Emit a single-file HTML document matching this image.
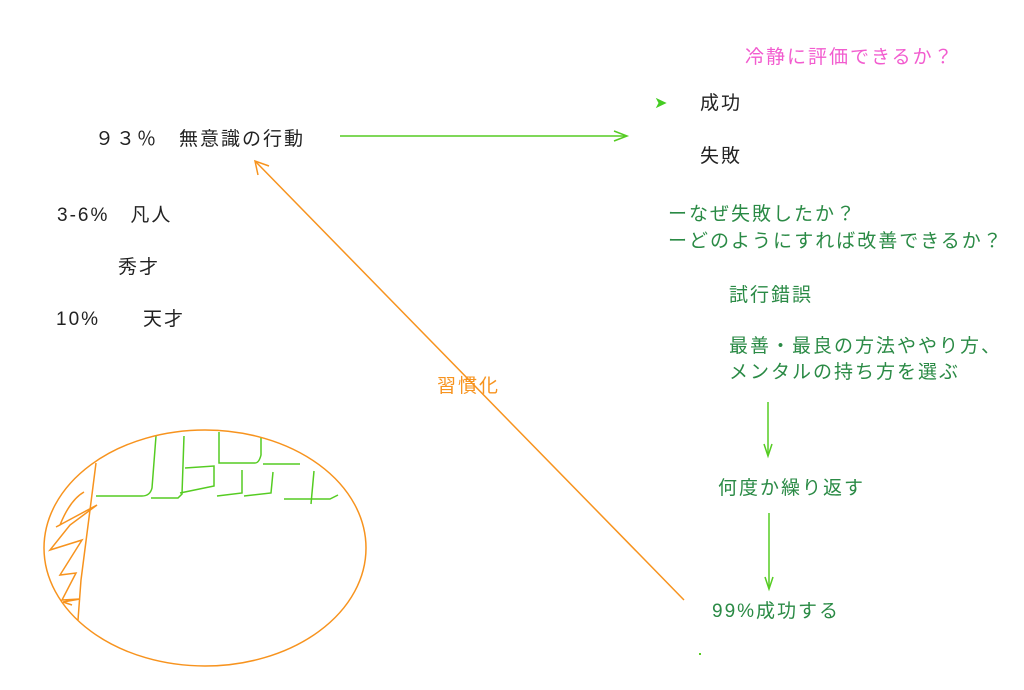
<!DOCTYPE html>
<html><head><meta charset="utf-8"><style>
body{margin:0;background:#fff;width:1024px;height:690px;overflow:hidden}
svg{display:block}
text{font-family:"Liberation Sans","Noto Sans CJK JP",sans-serif;font-size:19px;letter-spacing:2px}
</style></head><body>
<svg width="1024" height="690" viewBox="0 0 1024 690">
<g fill="#222">
<text x="95" y="145">９３％　無意識の行動</text>
<text x="57" y="221">3-6%　凡人</text>
<text x="118" y="273">秀才</text>
<text x="56" y="325">10%</text>
<text x="143" y="325">天才</text>
<text x="700" y="109">成功</text>
<text x="700" y="162">失敗</text>
</g>
<text x="745" y="63" fill="#f25ccf">冷静に評価できるか？</text>
<text x="654" y="108" fill="#44cc22" style="font-size:16px">➤</text>
<g fill="#2a8a45">
<text x="668" y="220">ーなぜ失敗したか？</text>
<text x="668" y="247">ーどのようにすれば改善できるか？</text>
<text x="729" y="301">試行錯誤</text>
<text x="729" y="352">最善・最良の方法ややり方、</text>
<text x="729" y="378">メンタルの持ち方を選ぶ</text>
<text x="718" y="494">何度か繰り返す</text>
<text x="712" y="617">99%成功する</text>
</g>
<text x="437" y="392" fill="#f7931e">習慣化</text>
<g stroke="#55cc22" stroke-width="1.5" fill="none">
<line x1="340" y1="136" x2="626" y2="136"/>
<polyline points="614,131 627,136 614,141"/>
<line x1="768" y1="402" x2="768" y2="455"/>
<polyline points="764,444 768,456 772,444"/>
<line x1="769" y1="513" x2="769" y2="588"/>
<polyline points="765,577 769,589 773,577"/>
<path d="M96,496 H142 Q150,496 152,488 L156,436"/>
<path d="M151,498 H178 Q180,496 182,494 L184,436"/>
<path d="M185,468 L214,466 L214,486 L180,493"/>
<path d="M219,432 V463 H255 Q259,463 261,455 V437"/>
<path d="M263,464 H300"/>
<path d="M217,496 L242,493 V470"/>
<path d="M244,496 L271,493 L273,472"/>
<path d="M284,499 H330 L338,495"/>
<path d="M311,504 L314,471"/>
</g>
<g stroke="#f7931e" stroke-width="1.5" fill="none">
<ellipse cx="205" cy="548" rx="161" ry="118"/>
<line x1="684" y1="600" x2="256" y2="162"/>
<polyline points="258,175 255,161 269,166"/>
<path d="M96,463 L90,510 L81,580 L78,620"/>
<path d="M84,492 Q70,500 60,525 L56,527 L97,505 L70,525 L50,550 L82,540 L60,575 L76,573 L62,600 L80,599 L63,602 L72,605"/>
</g>
<rect x="699" y="653" width="2" height="2" fill="#55cc22"/>
</svg>
</body></html>
